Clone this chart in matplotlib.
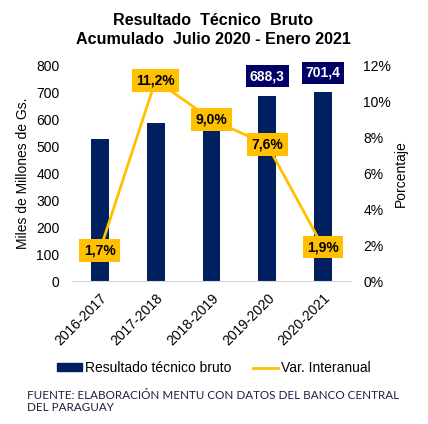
import matplotlib.pyplot as plt
from matplotlib.lines import Line2D
from matplotlib.patches import Patch

plt.rcParams['font.family'] = ['Liberation Sans', 'DejaVu Sans']

# data
periodos = ["2016-2017", "2017-2018", "2018-2019", "2019-2020", "2020-2021"]
resultado = [527.8, 587.0, 639.8, 688.3, 701.4]
var_interanual = [1.7, 11.2, 9.0, 7.6, 1.9]
bar_labels = ["", "", "", "688,3", "701,4"]
var_labels = ["1,7%", "11,2%", "9,0%", "7,6%", "1,9%"]

navy = "#002060"
label_navy = "#000066"
yellow = "#FFC000"

fig = plt.figure(figsize=(4.28, 4.24), dpi=100)
ax = fig.add_axes([0.168, 0.337, 0.652, 0.508])
x = range(len(periodos))

ax.bar(x, resultado, width=0.32, color=navy, zorder=2)
ax.set_xlim(-0.5, 4.5)
ax.set_ylim(0, 800)
ax.set_yticks(range(0, 801, 100))
ax.tick_params(axis="both", length=0, labelsize=10)
ax.tick_params(axis="y", pad=9)
ax.tick_params(axis="x", pad=7)
ax.set_xticks(list(x))
ax.set_xticklabels(periodos, rotation=45, ha="right", rotation_mode="anchor")
ax.set_ylabel("Miles de Millones de Gs.", fontsize=10, labelpad=4)
for s in ["top", "right", "left"]:
    ax.spines[s].set_visible(False)
ax.spines["bottom"].set_color("#D9D9D9")

for i, lab in enumerate(bar_labels):
    if lab:
        ax.annotate(lab, (i, resultado[i]), xytext=(0, 14), textcoords="offset points",
                    ha="center", va="center", fontsize=10, fontweight="bold", color="white",
                    bbox=dict(boxstyle="square,pad=0.28", fc=label_navy, ec="none"), zorder=5)

ax2 = ax.twinx()
ax2.plot(list(x), var_interanual, color=yellow, linewidth=2, zorder=3)
ax2.set_ylim(0, 12)
ax2.set_yticks(range(0, 13, 2))
ax2.set_yticklabels([f"{v}%" for v in range(0, 13, 2)])
ax2.tick_params(axis="y", length=0, labelsize=10, pad=9)
ax2.set_ylabel("Porcentaje", fontsize=10, labelpad=2)
for s in ["top", "right", "left", "bottom"]:
    ax2.spines[s].set_visible(False)

for i, lab in enumerate(var_labels):
    ax2.text(i, var_interanual[i], lab, ha="center", va="center", fontsize=10,
             fontweight="bold", color="black",
             bbox=dict(boxstyle="square,pad=0.32", fc=yellow, ec="none"), zorder=6)

fig.text(0.498, 0.951, "Resultado  Técnico  Bruto", ha="center", va="center",
         fontsize=11.6, fontweight="bold")
fig.text(0.498, 0.906, "Acumulado  Julio 2020 - Enero 2021", ha="center", va="center",
         fontsize=11.6, fontweight="bold")

handles = [Patch(color=navy, label="Resultado técnico bruto"),
           Line2D([0], [0], color=yellow, lw=2, label="Var. Interanual")]
fig.legend(handles=handles, loc="center", bbox_to_anchor=(0.5, 0.132), ncol=2,
           frameon=False, fontsize=10, handlelength=1.8, handleheight=0.5,
           handletextpad=0.2, columnspacing=1.6)

fig.text(0.062, 0.053, "FUENTE: ELABORACIÓN MENTU CON DATOS DEL BANCO CENTRAL\nDEL PARAGUAY",
         ha="left", va="center", fontsize=8.4, color="#1F1F3F", linespacing=1.05,
         family=["Lato", "DejaVu Sans"])

fig.savefig("out.png", dpi=100)
